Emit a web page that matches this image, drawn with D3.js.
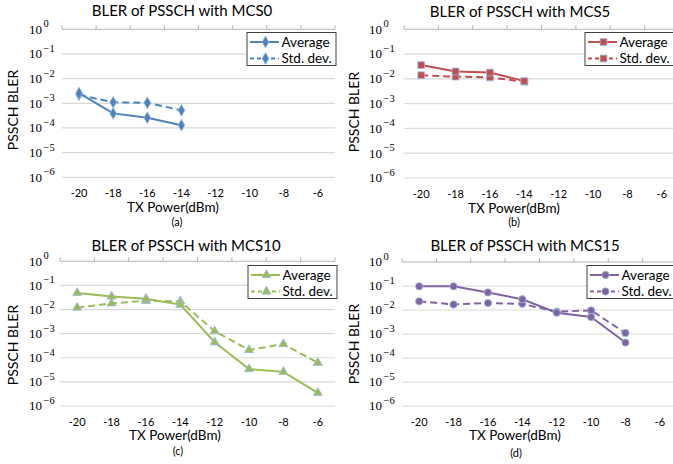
<!DOCTYPE html>
<html>
<head>
<meta charset="utf-8">
<script src="https://cdn.jsdelivr.net/npm/d3@7"></script>
<style>
  body { margin: 0; background: #fff; }
  svg { display: block; }
  .sans { font-family: Lato, "Open Sans", sans-serif; fill: #000; }
  .serif { font-family: "Liberation Serif", "DejaVu Serif", serif; fill: #000; }
</style>
</head>
<body>
<svg id="chart" width="673" height="464"></svg>
<script>
// TX power categories (dBm)
var powers = [-20, -18, -16, -14, -12, -10, -8, -6];
var yTickExps = [0, -1, -2, -3, -4, -5, -6];

// BLER values
var mcs0Avg = [2.6e-3, 3.9e-4, 2.6e-4, 1.3e-4];
var mcs0Std = [2.2e-3, 1.1e-3, 1.05e-3, 5.2e-4];
var mcs5Avg = [3.6e-2, 2.0e-2, 1.8e-2, 8.1e-3];
var mcs5Std = [1.4e-2, 1.23e-2, 1.15e-2, 7.6e-3];
var mcs10Avg = [4.9e-2, 3.5e-2, 2.8e-2, 1.6e-2, 4.4e-4, 3.4e-5, 2.6e-5, 3.5e-6];
var mcs10Std = [1.2e-2, 1.8e-2, 2.3e-2, 2.2e-2, 1.26e-3, 2.1e-4, 3.7e-4, 6.2e-5];
var mcs15Avg = [9.7e-2, 9.7e-2, 5.4e-2, 2.8e-2, 7.7e-3, 5.1e-3, 4.4e-4];
var mcs15Std = [2.3e-2, 1.7e-2, 1.95e-2, 1.8e-2, 8.5e-3, 9.6e-3, 1.1e-3];

var panels = [
  { title: 'BLER of PSSCH with MCS0', tag: '(a)', avg: mcs0Avg, std: mcs0Std, color: '#4f81bd', symbol: d3.symbolDiamond, size: 40,
    x0: 62, x1: 335, y0: 29.3, y1: 177.3, labelX: 29, titleX: 182, titleY: 11, yTitleX: 13, yTitleY: 110, xTitleX: 173, xTitleY: 207, tagX: 177, tagY: 222, legX: 247, legY: 32.5 },
  { title: 'BLER of PSSCH with MCS5', tag: '(b)', avg: mcs5Avg, std: mcs5Std, color: '#c0504d', symbol: d3.symbolSquare, size: 46,
    x0: 404, x1: 679, y0: 29.3, y1: 178, labelX: 369, titleX: 520, titleY: 11.5, yTitleX: 354, yTitleY: 112, xTitleX: 514, xTitleY: 208.5, tagX: 514, tagY: 222.5, legX: 585, legY: 32.5 },
  { title: 'BLER of PSSCH with MCS10', tag: '(c)', avg: mcs10Avg, std: mcs10Std, color: '#9bbb59', symbol: d3.symbolTriangle, size: 36,
    x0: 60, x1: 335, y0: 261.3, y1: 406, labelX: 29, titleX: 186, titleY: 245.5, yTitleX: 13, yTitleY: 345, xTitleX: 175, xTitleY: 435, tagX: 178, tagY: 451, legX: 248, legY: 265.5 },
  { title: 'BLER of PSSCH with MCS15', tag: '(d)', avg: mcs15Avg, std: mcs15Std, color: '#8064a2', symbol: d3.symbolCircle, size: 42,
    x0: 402, x1: 677, y0: 262, y1: 406, labelX: 369, titleX: 525, titleY: 246, yTitleX: 354, yTitleY: 344, xTitleX: 515, xTitleY: 435.5, tagX: 516, tagY: 453, legX: 587, legY: 265.5 }
];

var svg = d3.select('#chart');
var markerEdge = '#9dbbe3';

panels.forEach(function(p) {
  var g = svg.append('g');

  var x = d3.scaleBand()
    .domain(powers)
    .range([p.x0, p.x1])
    .padding(0);

  var y = d3.scaleLog()
    .domain([1e-6, 1])
    .range([p.y1, p.y0]);

  // gridlines
  g.selectAll('.grid')
    .data(yTickExps.slice(1))
    .enter().append('line')
    .attr('x1', p.x0).attr('x2', p.x1)
    .attr('y1', function(e) { return y(Math.pow(10, e)); })
    .attr('y2', function(e) { return y(Math.pow(10, e)); })
    .attr('stroke', '#d9d9d9')
    .attr('stroke-width', 1.2);

  // category axis crosses at 10^0, so it sits on top
  g.append('line')
    .attr('x1', p.x0).attr('x2', p.x1)
    .attr('y1', y(1)).attr('y2', y(1))
    .attr('stroke', '#b3b3b3')
    .attr('stroke-width', 1);

  var bounds = powers.map(function(d) { return x(d); }).concat([p.x1]);
  g.selectAll('.tick')
    .data(bounds)
    .enter().append('line')
    .attr('x1', function(d) { return d; }).attr('x2', function(d) { return d; })
    .attr('y1', y(1)).attr('y2', y(1) - 4)
    .attr('stroke', '#b3b3b3');

  // x tick labels
  g.selectAll('.xlab')
    .data(powers)
    .enter().append('text')
    .attr('class', 'sans')
    .attr('x', function(d) { return x(d) + x.bandwidth() / 2; })
    .attr('y', p.y1 + 16)
    .attr('dy', '0.35em')
    .attr('text-anchor', 'middle')
    .style('font-size', '11px')
    .text(function(d) { return d; });

  // y tick labels: 10^n
  var yl = g.selectAll('.ylab')
    .data(yTickExps)
    .enter().append('text')
    .attr('class', 'serif')
    .attr('x', p.labelX)
    .attr('y', function(e) { return y(Math.pow(10, e)); })
    .attr('dy', '0.33em')
    .style('font-size', '13px');
  yl.append('tspan').text('10');
  yl.append('tspan')
    .attr('dy', '-0.6em')
    .attr('dx', '1.5')
    .style('font-size', '10.5px')
    .text(function(e) { return e === 0 ? '0' : '\u2212' + (-e); });

  // titles
  g.append('text')
    .attr('class', 'sans')
    .attr('x', p.titleX).attr('y', p.titleY)
    .attr('dy', '0.35em')
    .attr('text-anchor', 'middle')
    .style('font-size', '15px')
    .text(p.title);

  g.append('text')
    .attr('class', 'sans')
    .attr('transform', 'translate(' + p.yTitleX + ',' + p.yTitleY + ') rotate(-90)')
    .attr('dy', '0.35em')
    .attr('text-anchor', 'middle')
    .style('font-size', '14px')
    .text('PSSCH BLER');

  g.append('text')
    .attr('class', 'sans')
    .attr('x', p.xTitleX).attr('y', p.xTitleY)
    .attr('dy', '0.35em')
    .attr('text-anchor', 'middle')
    .style('font-size', '13.5px')
    .text('TX Power(dBm)');

  g.append('text')
    .attr('class', 'sans')
    .attr('x', p.tagX).attr('y', p.tagY)
    .attr('dy', '0.35em')
    .attr('text-anchor', 'middle')
    .style('font-size', '11px')
    .text(p.tag);

  var line = d3.line()
    .x(function(d, i) { return x(powers[i]) + x.bandwidth() / 2; })
    .y(function(d) { return y(d); });

  var sym = d3.symbol().type(p.symbol).size(p.size);

  [{ vals: p.std, dash: '7,4' }, { vals: p.avg, dash: null }].forEach(function(s) {
    g.append('path')
      .datum(s.vals)
      .attr('d', line)
      .attr('fill', 'none')
      .attr('stroke', p.color)
      .attr('stroke-width', 2)
      .attr('stroke-dasharray', s.dash);

    g.selectAll(null)
      .data(s.vals)
      .enter().append('path')
      .attr('d', sym)
      .attr('transform', function(d, i) {
        return 'translate(' + (x(powers[i]) + x.bandwidth() / 2) + ',' + y(d) + ')';
      })
      .attr('fill', p.color)
      .attr('stroke', markerEdge)
      .attr('stroke-width', 0.8);
  });

  // legend
  var leg = g.append('g').attr('transform', 'translate(' + p.legX + ',' + p.legY + ')');
  leg.append('rect')
    .attr('width', 89).attr('height', 33)
    .attr('fill', '#fff')
    .attr('stroke', '#404040')
    .attr('stroke-width', 1);

  [{ label: 'Average', dash: null, yy: 9.5 }, { label: 'Std. dev.', dash: '4,3', yy: 26 }].forEach(function(item) {
    leg.append('line')
      .attr('x1', 3).attr('x2', 32)
      .attr('y1', item.yy).attr('y2', item.yy)
      .attr('stroke', p.color)
      .attr('stroke-width', 2)
      .attr('stroke-dasharray', item.dash);
    leg.append('path')
      .attr('d', sym)
      .attr('transform', 'translate(18.5,' + item.yy + ')')
      .attr('fill', p.color)
      .attr('stroke', markerEdge)
      .attr('stroke-width', 0.8);
    leg.append('text')
      .attr('class', 'sans')
      .attr('x', 34.5).attr('y', item.yy)
      .attr('dy', '0.35em')
      .style('font-size', '13.5px')
      .text(item.label);
  });
});
</script>
</body>
</html>
